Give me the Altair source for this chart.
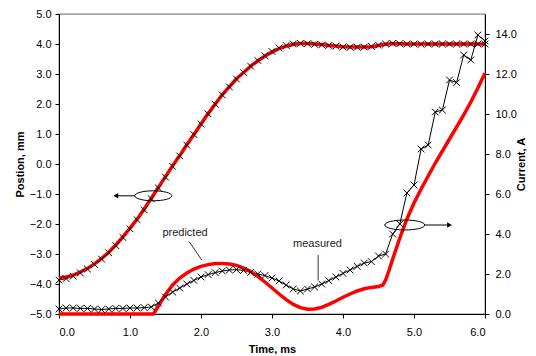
import altair as alt
import pandas as pd

# ---------------- data ----------------
time = [0.0, 0.1, 0.2, 0.3, 0.4, 0.5, 0.6, 0.7, 0.8, 0.9,
        1.0, 1.1, 1.2, 1.3, 1.4, 1.5, 1.6, 1.7, 1.8, 1.9,
        2.0, 2.1, 2.2, 2.3, 2.4, 2.5, 2.6, 2.7, 2.8, 2.9,
        3.0, 3.1, 3.2, 3.3, 3.4, 3.5, 3.6, 3.7, 3.8, 3.9,
        4.0, 4.1, 4.2, 4.3, 4.4, 4.5, 4.6, 4.7, 4.8, 4.9,
        5.0, 5.1, 5.2, 5.3, 5.4, 5.5, 5.6, 5.7, 5.8, 5.9, 6.0]

pos_predicted = [-3.8, -3.77, -3.7, -3.6, -3.48, -3.33, -3.15, -2.94, -2.7, -2.43,
                 -2.14, -1.84, -1.5, -1.14, -0.78, -0.42, -0.06, 0.28, 0.64, 0.98,
                 1.33, 1.68, 2.0, 2.31, 2.58, 2.84, 3.05, 3.26, 3.44, 3.6,
                 3.73, 3.85, 3.93, 3.99, 4.02, 4.02, 4.0, 3.98, 3.95, 3.93,
                 3.91, 3.9, 3.9, 3.9, 3.91, 3.95, 3.99, 4.02, 4.01, 4.0,
                 4.0, 4.0, 4.0, 4.0, 4.0, 4.0, 4.0, 4.0, 4.0, 4.0, 4.0]

pos_measured = [-3.87, -3.82, -3.74, -3.63, -3.5, -3.35, -3.17, -2.96, -2.72, -2.45,
                -2.16, -1.86, -1.53, -1.16, -0.8, -0.44, -0.08, 0.27, 0.63, 0.98,
                1.33, 1.67, 1.99, 2.3, 2.57, 2.83, 3.05, 3.26, 3.45, 3.61,
                3.75, 3.87, 3.95, 4.0, 4.02, 4.01, 3.99, 3.97, 3.95, 3.93,
                3.9, 3.89, 3.89, 3.9, 3.92, 3.96, 4.0, 4.02, 4.01, 4.0,
                4.0, 3.99, 4.0, 4.0, 4.0, 4.0, 4.0, 4.0, 4.0, 4.0, 4.0]

cur_measured = [0.25, 0.3, 0.3, 0.28, 0.28, 0.25, 0.22, 0.25, 0.28, 0.28,
                0.3, 0.3, 0.32, 0.35, 0.55, 0.85, 1.1, 1.3, 1.5, 1.68,
                1.85, 1.97, 2.07, 2.15, 2.2, 2.22, 2.18, 2.08, 2.0, 1.92,
                1.8, 1.65, 1.45, 1.25, 1.15, 1.25, 1.35, 1.5, 1.67, 1.85,
                2.03, 2.2, 2.38, 2.55, 2.62, 2.9, 3.0, 4.0, 4.5, 6.05,
                6.45, 8.25, 8.45, 10.1, 10.2, 11.7, 11.57, 12.95, 12.7, 13.95, 13.65]

cur_pred_time = [0.0, 1.33, 1.4, 1.5, 1.6, 1.7, 1.8, 1.9,
                 2.0, 2.1, 2.2, 2.3, 2.4, 2.5, 2.6, 2.7, 2.8, 2.9,
                 3.0, 3.1, 3.2, 3.3, 3.4, 3.5, 3.6, 3.7, 3.8, 3.9,
                 4.0, 4.1, 4.2, 4.3, 4.4, 4.5, 4.56, 4.6, 4.65, 4.7, 4.8, 4.9,
                 5.0, 5.1, 5.2, 5.3, 5.4, 5.5, 5.6, 5.7, 5.8, 5.9, 6.0]
cur_predicted = [0.0, 0.0, 0.4, 0.98, 1.45, 1.8, 2.05, 2.25,
                 2.38, 2.47, 2.52, 2.53, 2.5, 2.43, 2.3, 2.12, 1.88, 1.6,
                 1.3, 1.0, 0.72, 0.48, 0.32, 0.24, 0.25, 0.33, 0.48, 0.65,
                 0.84, 1.0, 1.15, 1.26, 1.33, 1.37, 1.45, 1.7, 2.2, 2.75, 3.8, 4.75,
                 5.55, 6.25, 6.9, 7.55, 8.15, 8.75, 9.35, 9.95, 10.6, 11.3, 12.05]

# annotations
label_text = ["predicted", "measured"]
label_t = [1.775, 3.64]
label_c = [4.03, 3.49]
leader_t = [1.833, 3.65]
leader_c = [3.62, 2.95]
leader_t2 = [2.01, 3.65]
leader_c2 = [2.7, 1.7]

left_oval_t, left_oval_v = [1.328], [-1.06]
left_arrow_t, left_arrow_t2, left_arrow_v = [1.07], [0.80], [-1.06]
right_oval_t, right_oval_c = [4.87], [4.45]
right_arrow_t, right_arrow_t2, right_arrow_c = [5.155], [5.50], [4.45]

# ---------------- frames ----------------
pos_df = pd.DataFrame({"t": time, "pred": pos_predicted, "meas": pos_measured})
cur_df = pd.DataFrame({"t": time, "meas": cur_measured})
curp_df = pd.DataFrame({"t": cur_pred_time, "pred": cur_predicted})
lab_df = pd.DataFrame({"t": label_t, "c": label_c, "txt": label_text})
lead_df = pd.DataFrame({"t": leader_t, "c": leader_c, "t2": leader_t2, "c2": leader_c2})
loval_df = pd.DataFrame({"t": left_oval_t, "v": left_oval_v})
larrow_df = pd.DataFrame({"t": left_arrow_t, "t2": left_arrow_t2, "v": left_arrow_v})
roval_df = pd.DataFrame({"t": right_oval_t, "c": right_oval_c})
rarrow_df = pd.DataFrame({"t": right_arrow_t, "t2": right_arrow_t2, "c": right_arrow_c})

FONT = "Liberation Sans"
CROSS = "M-1,-1L1,1M-1,1L1,-1"

xenc = alt.X("t:Q", scale=alt.Scale(domain=[0, 6], nice=False, zero=False),
             axis=alt.Axis(values=[0, 1, 2, 3, 4, 5, 6], format=".1f", title="Time, ms",
                           labelPadding=8, titlePadding=6))

def ypos(field):
    return alt.Y(f"{field}:Q", scale=alt.Scale(domain=[-5, 5], nice=False, zero=False),
                 axis=alt.Axis(orient="left", values=list(range(-5, 6)), format=".1f",
                               title="Postion, mm", labelPadding=4, titlePadding=4))

def ycur(field):
    return alt.Y(f"{field}:Q", scale=alt.Scale(domain=[0, 15], nice=False, zero=False),
                 axis=alt.Axis(orient="right", values=[0, 2, 4, 6, 8, 10, 12, 14], format=".1f",
                               title="Current, A", titleAngle=270, labelPadding=6, titlePadding=10))

# position group
p_meas_line = alt.Chart(pos_df).mark_line(color="black", strokeWidth=1).encode(x=xenc, y=ypos("meas"))
p_pred_line = alt.Chart(pos_df).mark_line(color="#ff0000", strokeWidth=3.5).encode(x=xenc, y=ypos("pred"))
p_pts = alt.Chart(pos_df).mark_point(shape=CROSS, size=45, filled=False, color="black",
                                     strokeWidth=1, opacity=1).encode(x=xenc, y=ypos("meas"))
l_oval = alt.Chart(loval_df).mark_point(shape="M-1,0A1,0.27,0,1,0,1,0A1,0.27,0,1,0,-1,0Z",
                                        size=1369, filled=False, color="black",
                                        strokeWidth=1, opacity=1).encode(x=xenc, y=ypos("v"))
l_arrow = alt.Chart(larrow_df).mark_rule(color="black", strokeWidth=1).encode(
    x=xenc, x2="t2:Q", y=ypos("v"))
l_head = alt.Chart(larrow_df).mark_point(shape="triangle-left", size=30, filled=True,
                                         color="black", opacity=1).encode(
    x=alt.X("t2:Q", scale=alt.Scale(domain=[0, 6], nice=False, zero=False)), y=ypos("v"))
pos_group = alt.layer(p_meas_line, p_pred_line, p_pts, l_oval, l_arrow, l_head)

# current group
c_meas_line = alt.Chart(cur_df).mark_line(color="black", strokeWidth=1).encode(x=xenc, y=ycur("meas"))
c_pred_line = alt.Chart(curp_df).mark_line(color="#ff0000", strokeWidth=3.5).encode(x=xenc, y=ycur("pred"))
c_pts = alt.Chart(cur_df).mark_point(shape=CROSS, size=45, filled=False, color="black",
                                     strokeWidth=1, opacity=1).encode(x=xenc, y=ycur("meas"))
labels = alt.Chart(lab_df).mark_text(font=FONT, fontSize=11, color="#222222").encode(
    x=xenc, y=ycur("c"), text="txt:N")
leaders = alt.Chart(lead_df).mark_rule(color="#333333", strokeWidth=1).encode(
    x=xenc, y=ycur("c"), x2="t2:Q", y2="c2:Q")
r_oval = alt.Chart(roval_df).mark_point(shape="M-1,0A1,0.25,0,1,0,1,0A1,0.25,0,1,0,-1,0Z",
                                        size=1600, filled=False, color="black",
                                        strokeWidth=1, opacity=1).encode(x=xenc, y=ycur("c"))
r_arrow = alt.Chart(rarrow_df).mark_rule(color="black", strokeWidth=1).encode(
    x=xenc, x2="t2:Q", y=ycur("c"))
r_head = alt.Chart(rarrow_df).mark_point(shape="triangle-right", size=30, filled=True,
                                         color="black", opacity=1).encode(
    x=alt.X("t2:Q", scale=alt.Scale(domain=[0, 6], nice=False, zero=False)), y=ycur("c"))
cur_group = alt.layer(c_meas_line, c_pred_line, c_pts, labels, leaders, r_oval, r_arrow, r_head)

chart = alt.layer(pos_group, cur_group).resolve_scale(y="independent").properties(
    width=426, height=300,
    padding={"left": 51, "top": 6, "right": 43, "bottom": 42},
    autosize=alt.AutoSizeParams(type="none"),
    background="white",
).configure_view(
    stroke="#888888", strokeWidth=1.3
).configure_axis(
    grid=False, labelFont=FONT, labelFontSize=11, labelColor="black",
    titleFont=FONT, titleFontSize=11, titleFontWeight="bold", titleColor="black",
    domainColor="black", domainWidth=1, tickColor="black", tickSize=4, tickWidth=1,
)

chart.save("out.html", embed_options={"renderer": "svg", "actions": False})
